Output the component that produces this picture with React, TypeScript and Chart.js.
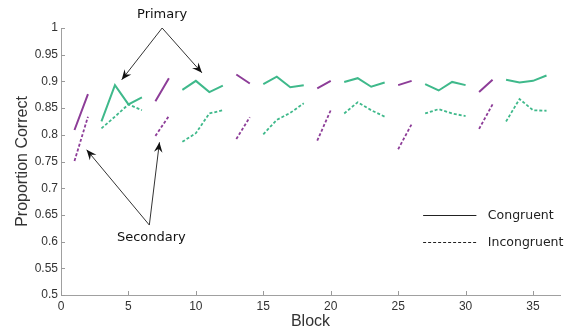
import { useEffect, useRef } from 'react';
import { Chart, registerables } from 'chart.js';

Chart.register(...registerables);

const blocks = [1, 2, 3, 4, 5, 6, 7, 8, 9, 10, 11, 12, 13, 14, 15, 16, 17, 18, 19, 20, 21, 22, 23, 24, 25, 26, 27, 28, 29, 30, 31, 32, 33, 34, 35, 36];
// S = secondary (purple), P = primary (green)
const blockType = ['S', 'S', 'P', 'P', 'P', 'P', 'S', 'S', 'P', 'P', 'P', 'P', 'S', 'S', 'P', 'P', 'P', 'P', 'S', 'S', 'P', 'P', 'P', 'P', 'S', 'S', 'P', 'P', 'P', 'P', 'S', 'S', 'P', 'P', 'P', 'P'];
const congruent = [0.809, 0.876, 0.825, 0.893, 0.857, 0.870, 0.863, 0.906, 0.884, 0.901, 0.880, 0.892, 0.913, 0.896, 0.895, 0.909, 0.889, 0.893, 0.887, 0.901, 0.899, 0.906, 0.890, 0.898, 0.893, 0.901, 0.895, 0.883, 0.899, 0.893, 0.880, 0.903, 0.903, 0.898, 0.901, 0.911];
const incongruent = [0.751, 0.834, 0.812, 0.834, 0.857, 0.846, 0.798, 0.835, 0.787, 0.803, 0.840, 0.846, 0.792, 0.833, 0.801, 0.828, 0.841, 0.859, 0.789, 0.846, 0.840, 0.861, 0.846, 0.834, 0.773, 0.820, 0.840, 0.848, 0.840, 0.835, 0.811, 0.857, 0.825, 0.867, 0.846, 0.845];
const xTicks = [0, 5, 10, 15, 20, 25, 30, 35];
const yTickLabels = ['0.5', '0.55', '0.6', '0.65', '0.7', '0.75', '0.8', '0.85', '0.9', '0.95', '1'];
const legendLabels = ['Congruent', 'Incongruent'];

const PURPLE = '#8d3d98';
const GREEN = '#3fb98b';

function pick(values: number[], type: string) {
  return blocks.map((b, i) => ({ x: b, y: blockType[i] === type ? values[i] : null }));
}

function arrow(ctx: CanvasRenderingContext2D, x1: number, y1: number, x2: number, y2: number) {
  ctx.beginPath();
  ctx.moveTo(x1, y1);
  ctx.lineTo(x2, y2);
  ctx.stroke();
  const ang = Math.atan2(y2 - y1, x2 - x1);
  const len = 11;
  const w = 0.4;
  ctx.beginPath();
  ctx.moveTo(x2, y2);
  ctx.lineTo(x2 - len * Math.cos(ang - w), y2 - len * Math.sin(ang - w));
  ctx.lineTo(x2 - len * 0.6 * Math.cos(ang), y2 - len * 0.6 * Math.sin(ang));
  ctx.lineTo(x2 - len * Math.cos(ang + w), y2 - len * Math.sin(ang + w));
  ctx.closePath();
  ctx.fill();
}

const decorPlugin = {
  id: 'decor',
  afterDraw(chart: any) {
    const ctx: CanvasRenderingContext2D = chart.ctx;
    const xs = chart.scales.x;
    const ys = chart.scales.y;
    const area = chart.chartArea;
    const px = (v: number) => xs.getPixelForValue(v);
    const py = (v: number) => ys.getPixelForValue(v);
    ctx.save();
    // inward ticks
    ctx.strokeStyle = '#9a9a9a';
    ctx.lineWidth = 1;
    ys.ticks.forEach((t: any) => {
      const y = Math.round(py(t.value)) + 0.5;
      ctx.beginPath();
      ctx.moveTo(area.left, y);
      ctx.lineTo(area.left + 4, y);
      ctx.stroke();
    });
    xs.ticks.forEach((t: any) => {
      const x = Math.round(px(t.value)) + 0.5;
      ctx.beginPath();
      ctx.moveTo(x, area.bottom);
      ctx.lineTo(x, area.bottom - 4);
      ctx.stroke();
    });
    // axis titles
    ctx.fillStyle = '#333';
    ctx.font = '16px "Liberation Sans", Arial, sans-serif';
    ctx.textAlign = 'center';
    ctx.textBaseline = 'middle';
    ctx.fillText('Block', (area.left + area.right) / 2, 322);
    ctx.save();
    ctx.translate(23, (area.top + area.bottom) / 2);
    ctx.rotate(-Math.PI / 2);
    ctx.fillText('Proportion Correct', 0, 0);
    ctx.restore();

    // annotations
    ctx.fillStyle = '#111';
    ctx.strokeStyle = '#333';
    ctx.lineWidth = 1;
    ctx.font = '13px "DejaVu Sans", sans-serif';
    ctx.fillText('Primary', px(7.5), py(1.025));
    arrow(ctx, px(7.5), py(1.0), px(4.5), py(0.903));
    arrow(ctx, px(7.5), py(1.0), px(10.45), py(0.916));
    ctx.fillText('Secondary', px(6.7), py(0.607));
    arrow(ctx, px(6.55), py(0.631), px(1.9), py(0.772));
    arrow(ctx, px(6.55), py(0.631), px(7.3), py(0.786));

    // legend
    const lx1 = px(26.85);
    const lx2 = px(30.8);
    const ly1 = Math.round(py(0.65)) + 0.5;
    const ly2 = Math.round(py(0.6)) + 0.5;
    ctx.strokeStyle = '#222';
    ctx.lineWidth = 1.2;
    ctx.beginPath();
    ctx.moveTo(lx1, ly1);
    ctx.lineTo(lx2, ly1);
    ctx.stroke();
    ctx.setLineDash([3, 2]);
    ctx.beginPath();
    ctx.moveTo(lx1, ly2);
    ctx.lineTo(lx2, ly2);
    ctx.stroke();
    ctx.setLineDash([]);
    ctx.fillStyle = '#222';
    ctx.textAlign = 'left';
    ctx.font = '12.5px "DejaVu Sans", sans-serif';
    ctx.fillText(legendLabels[0], px(31.65), ly1);
    ctx.fillText(legendLabels[1], px(31.65), ly2);
    ctx.restore();
  },
};

export default function App() {
  const ref = useRef<HTMLCanvasElement | null>(null);
  useEffect(() => {
    document.body.style.margin = '0';
    if (!ref.current) return;
    const solid = { borderWidth: 2, pointRadius: 0, spanGaps: false, fill: false, tension: 0 };
    const dashed = { borderWidth: 1.8, pointRadius: 0, spanGaps: false, fill: false, tension: 0, borderDash: [3, 2] };
    const chart = new Chart(ref.current, {
      type: 'line',
      data: {
        datasets: [
          { ...solid, label: 'Secondary congruent', data: pick(congruent, 'S'), borderColor: PURPLE },
          { ...dashed, label: 'Secondary incongruent', data: pick(incongruent, 'S'), borderColor: PURPLE },
          { ...solid, label: 'Primary congruent', data: pick(congruent, 'P'), borderColor: GREEN },
          { ...dashed, label: 'Primary incongruent', data: pick(incongruent, 'P'), borderColor: GREEN },
        ] as any,
      },
      options: {
        animation: false,
        responsive: false,
        devicePixelRatio: 1,
        layout: { padding: { top: 28, right: 13, left: 0, bottom: 0 } },
        plugins: { legend: { display: false }, tooltip: { enabled: false } },
        scales: {
          x: {
            type: 'linear',
            min: 0,
            max: 37,
            afterFit: (s: any) => { s.height = 36; },
            afterBuildTicks: (s: any) => { s.ticks = xTicks.map((v) => ({ value: v })); },
            grid: { display: false, drawTicks: false },
            border: { display: true, color: '#a0a0a0', width: 1 },
            ticks: {
              padding: 4,
              color: '#333',
              font: { family: '"Liberation Sans", Arial, sans-serif', size: 12 },
              callback: (v: any) => String(v),
              maxRotation: 0,
              autoSkip: false,
            },
          },
          y: {
            type: 'linear',
            min: 0.5,
            max: 1,
            afterFit: (s: any) => { s.width = 61; },
            afterBuildTicks: (s: any) => { s.ticks = yTickLabels.map((l) => ({ value: parseFloat(l) })); },
            grid: { display: false, drawTicks: false },
            border: { display: true, color: '#a0a0a0', width: 1 },
            ticks: {
              padding: 3,
              color: '#333',
              font: { family: '"Liberation Sans", Arial, sans-serif', size: 12 },
              callback: (v: any) => String(+Number(v).toFixed(2)),
              autoSkip: false,
            },
          },
        },
      },
      plugins: [decorPlugin],
    });
    return () => chart.destroy();
  }, []);
  return (
    <div style={{ width: 573, height: 331, background: '#fff' }}>
      <canvas ref={ref} width={573} height={331} style={{ display: 'block' }} />
    </div>
  );
}
